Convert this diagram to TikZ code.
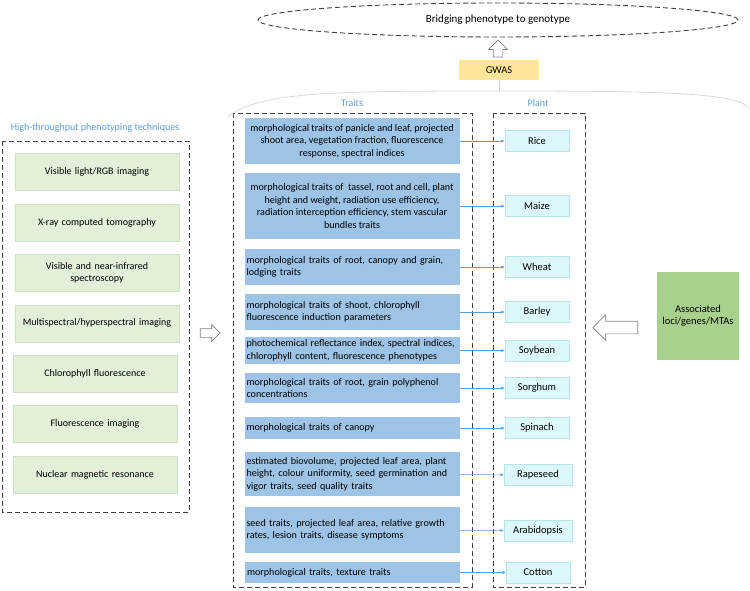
\documentclass[tikz,border=0pt]{standalone}
\usepackage{fontspec}
\setmainfont{Carlito}
\usepackage{tikz}
\usetikzlibrary{shapes.geometric, shapes.arrows, arrows.meta, positioning, calc}

\definecolor{traitblue}{HTML}{9DC3E6}
\definecolor{plantcyan}{HTML}{DDF8FB}
\definecolor{plantedge}{HTML}{B8E4EA}
\definecolor{techgreen}{HTML}{E2F0D9}
\definecolor{techedge}{HTML}{CFE0C3}
\definecolor{locigreen}{HTML}{A9D18E}
\definecolor{gwasyellow}{HTML}{FFE699}
\definecolor{headblue}{HTML}{5B9BD5}
\definecolor{framegray}{HTML}{404040}

\begin{document}
\begin{tikzpicture}[x=1pt, y=-1pt, node distance=13pt, >=Latex]
    \tikzstyle{tech} = [rectangle, draw=techedge, fill=techgreen, text width=156pt, align=center, minimum height=37pt, inner sep=4pt, font=\fontsize{10}{12}\selectfont]
    \tikzstyle{trait} = [rectangle, fill=traitblue, text width=211pt, inner xsep=2pt, inner ysep=2pt, align=left, font=\fontsize{10.1}{12.4}\selectfont]
    \tikzstyle{traitc} = [rectangle, fill=traitblue, minimum width=215pt, inner xsep=1pt, inner ysep=2pt, align=center, font=\fontsize{10.1}{12.4}\selectfont]
    \tikzstyle{plant} = [rectangle, draw=plantedge, fill=plantcyan, minimum width=64pt, minimum height=21pt, inner sep=1pt, font=\fontsize{10.5}{12}\selectfont]
    \tikzstyle{frame} = [draw=framegray, line width=0.9pt, dash pattern=on 5pt off 3pt]
    \tikzstyle{head} = [text=headblue, font=\fontsize{10}{12}\selectfont]
    \tikzstyle{link} = [-{Latex[length=3.5pt, width=3pt]}, draw=headblue, line width=0.5pt]
    \tikzstyle{hollow} = [single arrow, draw=gray, fill=white, line width=0.7pt, single arrow tip angle=90]

    \useasboundingbox (0,0) rectangle (750,591);

    % top: goal, GWAS and the brace under it
    \node [ellipse, frame, minimum width=480pt, minimum height=34pt, font=\fontsize{11}{13}\selectfont] (bridge) at (498,20) {Bridging phenotype to genotype};
    \node [rectangle, fill=gwasyellow, minimum width=80pt, minimum height=20pt, font=\fontsize{10.5}{12}\selectfont] (gwas) at (499,70) {GWAS};
    \node [hollow, shape border rotate=90, minimum height=17pt, inner sep=4.5pt, single arrow head extend=4.5pt] (up) at (498,51) {};
    \coordinate (bracetop) at (499,91);
    \draw [gray!35, line width=0.6pt] (gwas.south) -- (bracetop);
    \draw [gray!30, line width=0.8pt] (228,117) .. controls (258,92) and (330,91) .. (bracetop) .. controls (670,91) and (735,93) .. (749,108);

    % phenotyping techniques
    \node [head] (techhead) at (95,128) {High-throughput phenotyping techniques};
    \draw [frame] (2,141) rectangle (189,512);
    \node [tech] (rgb) at (97,172) {Visible light/RGB imaging};
    \node [tech, below=of rgb] (xray) {X-ray computed tomography};
    \node [tech, below=of xray] (nir) {Visible and near-infrared\\spectroscopy};
    \node [tech, below=of nir] (hyper) {Multispectral/hyperspectral imaging};
    \node [tech, below=of hyper, xshift=-2pt] (chloro) {Chlorophyll fluorescence};
    \node [tech, below=of chloro] (fluo) {Fluorescence imaging};
    \node [tech, below=of fluo] (nmr) {Nuclear magnetic resonance};
    \node [hollow, minimum height=20pt, inner sep=4pt, single arrow head extend=4pt] (toright) at (208,333) {};

    % traits
    \node [head] (traitshead) at (352,103) {Traits};
    \draw [frame] (233,113) rectangle (472,587);
    \node [traitc, minimum height=46pt] (t1) at (352,141) {morphological traits of panicle and leaf, projected\\shoot area, vegetation fraction, fluorescence\\response, spectral indices};
    \node [traitc, minimum height=66pt] (t2) at (352,206) {morphological traits of\ \ tassel, root and cell, plant\\height and weight, radiation use efficiency,\\radiation interception efficiency, stem vascular\\bundles traits};
    \node [trait, minimum height=36pt] (t3) at (352,267) {morphological traits of root, canopy and grain,\\lodging traits};
    \node [trait, minimum height=36pt] (t4) at (352,312) {morphological traits of shoot, chlorophyll\\fluorescence induction parameters};
    \node [trait, minimum height=27pt] (t5) at (352,350.5) {photochemical reflectance index, spectral indices,\\chlorophyll content, fluorescence phenotypes};
    \node [trait, minimum height=30pt] (t6) at (352,388) {morphological traits of root, grain polyphenol\\concentrations};
    \node [trait, minimum height=22pt] (t7) at (352,428) {morphological traits of canopy};
    \node [trait, minimum height=44pt] (t8) at (352,474) {estimated biovolume, projected leaf area, plant\\height, colour uniformity, seed germination and\\vigor traits, seed quality traits};
    \node [trait, minimum height=46pt] (t9) at (352,530) {seed traits, projected leaf area, relative growth\\rates, lesion traits, disease symptoms};
    \node [trait, minimum height=21pt] (t10) at (352.5,572.5) {morphological traits, texture traits};

    % plants
    \node [head] (planthead) at (538,103) {Plant};
    \draw [frame] (493,113) rectangle (585,587);
    \coordinate (pcol) at (537,0);
    \node [plant] (rice) at (pcol |- t1) {Rice};
    \node [plant] (maize) at (pcol |- t2) {Maize};
    \node [plant] (wheat) at (pcol |- t3) {Wheat};
    \node [plant] (barley) at (pcol |- t4) {Barley};
    \node [plant] (soybean) at (pcol |- t5) {Soybean};
    \node [plant] (sorghum) at (pcol |- t6) {Sorghum};
    \node [plant] (spinach) at (pcol |- t7) {Spinach};
    \node [plant, minimum width=68pt] (rapeseed) at (538,475) {Rapeseed};
    \node [plant, minimum width=68pt] (arabidopsis) at (538,530.5) {Arabidopsis};
    \node [plant] (cotton) at (538,572.5) {Cotton};

    \draw [link] (t1) -- (rice);
    \draw [link] (t2) -- (maize);
    \draw [link] (t3) -- (wheat);
    \draw [link] (t4) -- (barley);
    \draw [link] (t5) -- (soybean);
    \draw [link] (t6) -- (sorghum);
    \draw [link] (t7) -- (spinach);
    \draw [link] (t8) -- (rapeseed);
    \draw [link] (t9) -- (arabidopsis);
    \draw [link] (t10) -- (cotton);

    % associated loci
    \node [rectangle, fill=locigreen, text width=76pt, align=center, minimum height=88pt, font=\fontsize{10.5}{12.5}\selectfont] (loci) at (698,316) {Associated\\loci/genes/MTAs};
    \node [hollow, shape border rotate=180, minimum height=45pt, inner sep=6pt, single arrow head extend=6.5pt] (toleft) at (618.5,327.5) {};
\end{tikzpicture}
\end{document}
